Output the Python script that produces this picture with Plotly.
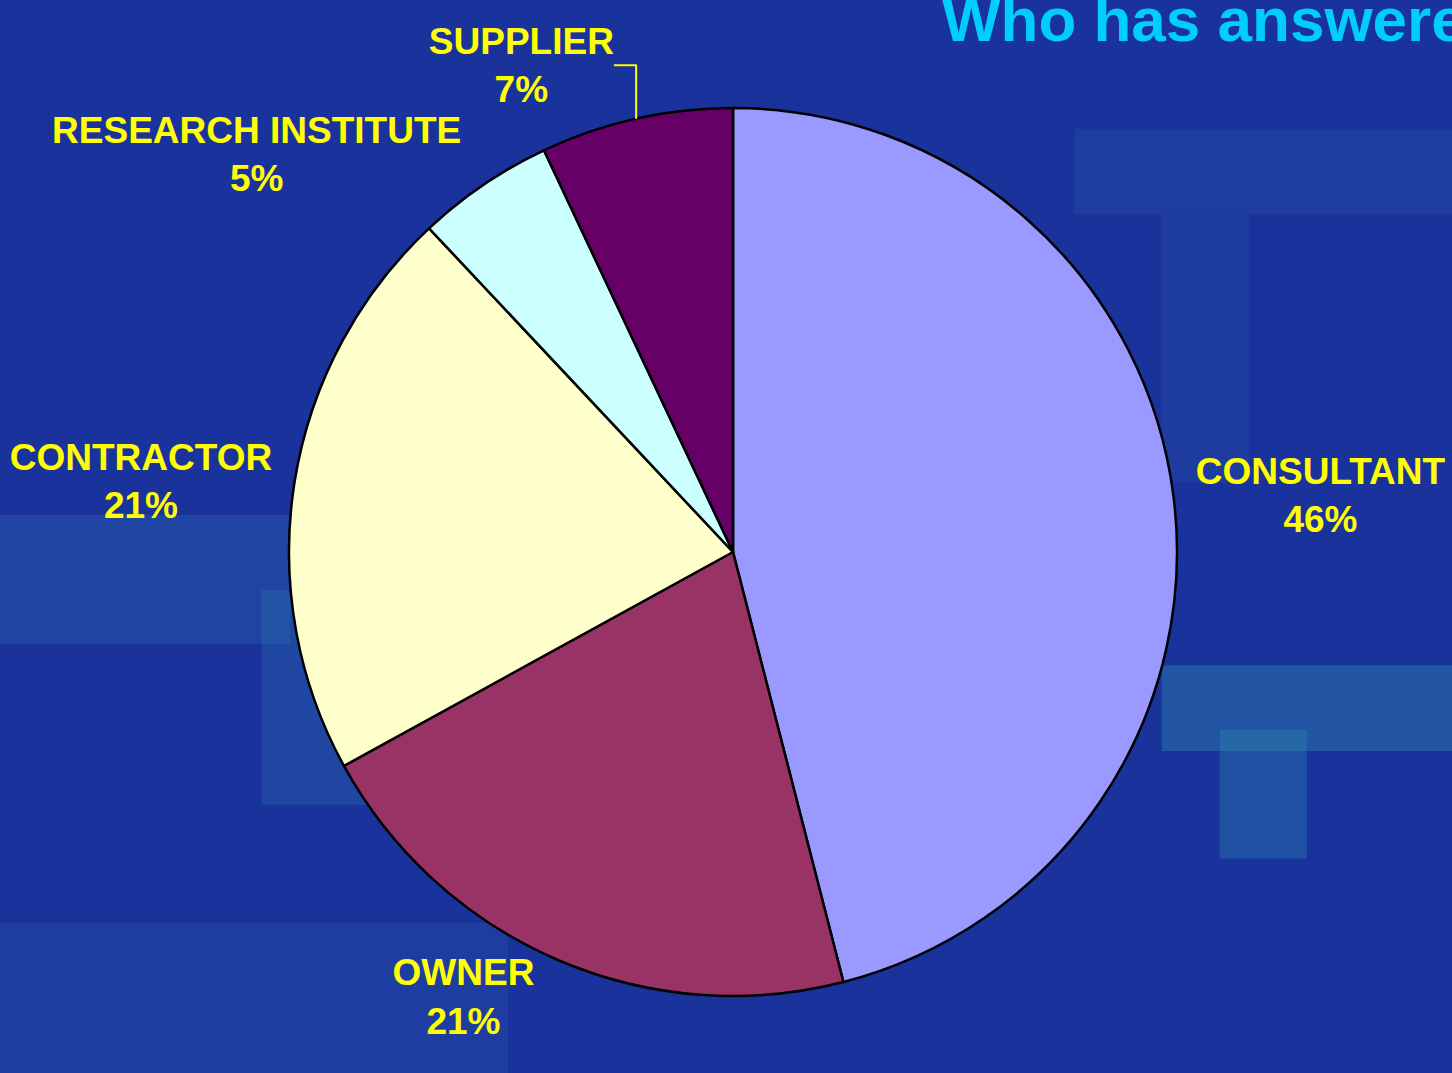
import plotly.graph_objects as go

categories = ["CONSULTANT", "OWNER", "CONTRACTOR", "RESEARCH INSTITUTE", "SUPPLIER"]
shares = [46, 21, 21, 5, 7]
slice_colors = ["#9999FF", "#993366", "#FFFFCC", "#CCFFFF", "#660066"]
title_text = "Who has answered?"

W, H = 1452, 1073
cx, cy, r = 733, 552, 444

fig = go.Figure()
fig.add_trace(go.Pie(
    labels=categories,
    values=shares,
    sort=False,
    direction="clockwise",
    rotation=0,
    marker=dict(colors=slice_colors, line=dict(color="#000000", width=2.5)),
    textposition="outside",
    texttemplate="%{label}<br>%{percent:.0%}",
    outsidetextfont=dict(family="Liberation Sans, Arial, sans-serif", size=37,
                         color="#FFFF00", weight="bold"),
    domain=dict(x=[(cx - r) / W, (cx + r) / W],
                y=[(H - cy - r) / H, (H - cy + r) / H]),
    showlegend=False,
    hoverinfo="skip",
))

# background texture hints (soft lighter patches)
patches = [
    (0.00, 0.40, 0.20, 0.52, "#2f6fb0", 0.30),
    (0.80, 0.30, 1.00, 0.38, "#2f8ab0", 0.40),
    (0.84, 0.20, 0.90, 0.32, "#2f8ab0", 0.35),
    (0.00, 0.00, 0.35, 0.14, "#2a5aa8", 0.30),
    (0.74, 0.80, 1.00, 0.88, "#2a5aa8", 0.30),
    (0.80, 0.55, 0.86, 0.80, "#2a5aa8", 0.25),
    (0.18, 0.25, 0.26, 0.45, "#2a7ab0", 0.30),
]
for x0, y0, x1, y1, c, o in patches:
    fig.add_shape(type="rect", xref="paper", yref="paper", x0=x0, y0=y0, x1=x1, y1=y1,
                  fillcolor=c, opacity=o, line=dict(width=0), layer="below")

fig.add_annotation(
    text=title_text, xref="paper", yref="paper",
    x=940 / W, y=1 - 20 / H, xanchor="left", yanchor="middle",
    showarrow=False,
    font=dict(family="Liberation Sans, Arial, sans-serif", size=62, color="#00CCFF", weight="bold"),
)

fig.update_layout(
    width=W, height=H,
    margin=dict(l=0, r=0, t=0, b=0),
    paper_bgcolor="#1a329c",
    plot_bgcolor="#1a329c",
)

fig.write_html("out.html",
               config={"displayModeBar": False},
               post_script="document.body.style.margin='0';document.body.style.overflow='hidden';")
